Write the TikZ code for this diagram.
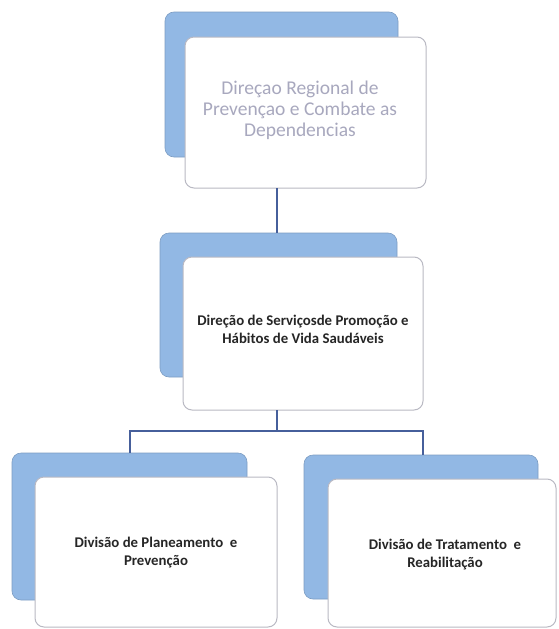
\documentclass[tikz,border=0pt]{standalone}
\usepackage{fontspec}
\setmainfont{Carlito}
\begin{document}
\begin{tikzpicture}[x=1pt,y=-1pt,
  back/.style={fill=backblue, draw=backblue!85!black, line width=0.6pt, rounded corners=9pt},
  front/.style={fill=white, draw=frontgray, line width=1pt, rounded corners=9pt},
  lbl/.style={align=center, font=\fontsize{14.8}{18}\selectfont\bfseries, text=black!85},
  toplbl/.style={align=center, font=\fontsize{19.5}{21}\selectfont, text=topgray},
  conn/.style={draw=connblue, line width=1.3pt}]
\definecolor{backblue}{RGB}{146,184,228}
\definecolor{frontgray}{RGB}{185,185,195}
\definecolor{topgray}{RGB}{168,168,190}
\definecolor{connblue}{RGB}{70,95,155}
\useasboundingbox (0,0) rectangle (559,629);
% top box
\draw[back] (165,12) rectangle (398,157);
\draw[front] (185,37) rectangle (426,188);
\node[toplbl] (top) at (300,110) {Direçao Regional de\\Prevençao e Combate as\\Dependencias};
% second
\draw[back] (160,233) rectangle (397,377);
\draw[front] (183,257) rectangle (423,410);
\node[lbl] (mid) at (303,329) {Direção de Serviçosde Promoção e\\Hábitos de Vida Saudáveis};
% left
\draw[back] (12,453) rectangle (247,600);
\draw[front] (35,477) rectangle (277,627);
\node[lbl] (left) at (156,553) {Divisão de Planeamento\ \ e\\Prevenção};
% right
\draw[back] (304,455) rectangle (538,599);
\draw[front] (328,479) rectangle (556,627);
\node[lbl] (right) at (445,555) {Divisão de Tratamento\ \ e\\Reabilitação};
% connectors
\coordinate (t1) at (277,188);
\coordinate (t2) at (277,233);
\coordinate (m1) at (277,410);
\coordinate (m2) at (277,431);
\coordinate (l1) at (130,431);
\coordinate (l2) at (130,453);
\coordinate (r1) at (423,431);
\coordinate (r2) at (423,455);
\draw[conn] (t1) -- (t2);
\draw[conn] (m1) -- (m2);
\draw[conn] (l2) -- (l1) -- (r1) -- (r2);
\end{tikzpicture}
\end{document}
